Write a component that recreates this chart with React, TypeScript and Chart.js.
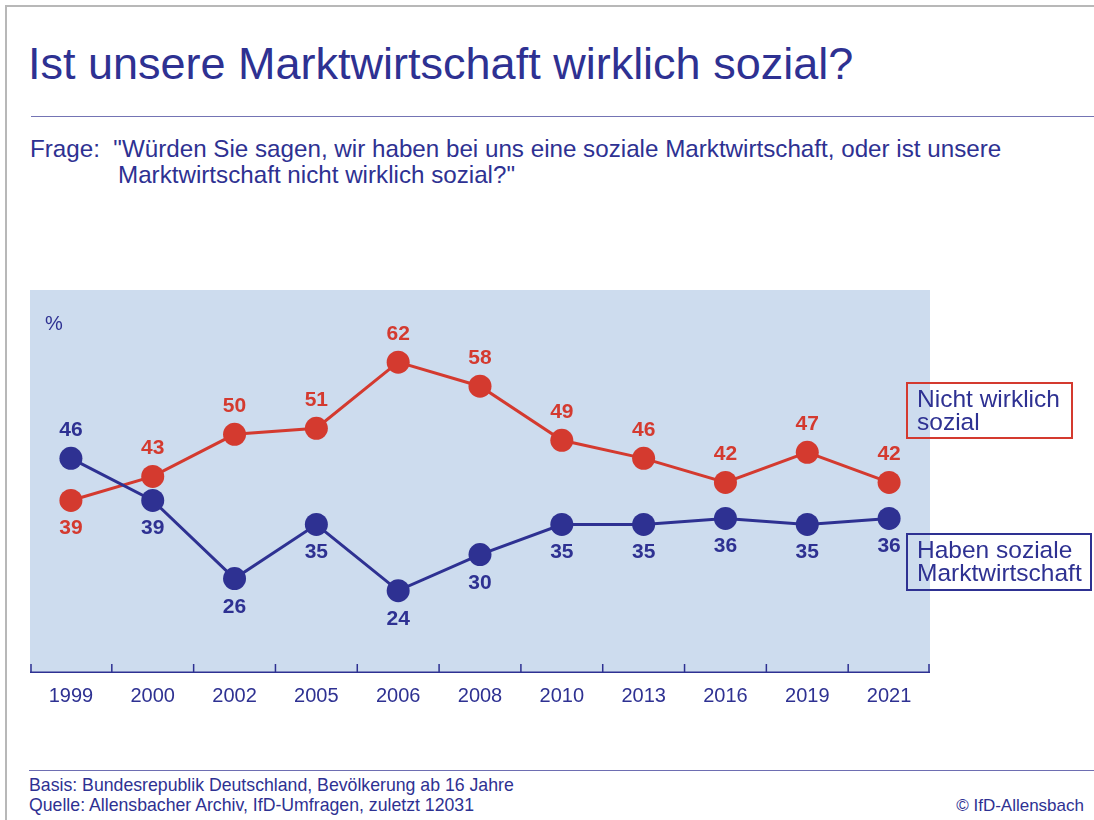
import React, { useEffect, useRef } from "react";
import { Chart, registerables } from "chart.js";

Chart.register(...registerables);

const years = ["1999", "2000", "2002", "2005", "2006", "2008", "2010", "2013", "2016", "2019", "2021"];
const nichtWirklichSozial = [39, 43, 50, 51, 62, 58, 49, 46, 42, 47, 42];
const habenSozialeMarktwirtschaft = [46, 39, 26, 35, 24, 30, 35, 35, 36, 35, 36];
const nichtLabelSide = ["below", "above", "above", "above", "above", "above", "above", "above", "above", "above", "above"];
const habenLabelSide = ["above", "below", "below", "below", "below", "below", "below", "below", "below", "below", "below"];

const BLUE = "#2e3192";
const RED = "#d43a2f";
const BG = "#cddcee";
const FONT = "'Liberation Sans', Arial, sans-serif";

const backgroundPlugin = {
  id: "bgPlugin",
  beforeDraw(chart: any) {
    const { ctx, chartArea } = chart;
    ctx.save();
    ctx.fillStyle = BG;
    ctx.fillRect(chartArea.left, chartArea.top, chartArea.right - chartArea.left, chartArea.bottom - chartArea.top);
    ctx.restore();
  },
  beforeDatasetsDraw(chart: any) {
    const { ctx, chartArea } = chart;
    const xs = chart.scales.x;
    const n = chart.data.labels.length;
    const w = xs.getPixelForValue(1) - xs.getPixelForValue(0);
    ctx.save();
    ctx.strokeStyle = BLUE;
    ctx.lineWidth = 1.5;
    ctx.beginPath();
    ctx.moveTo(chartArea.left, chartArea.bottom - 0.75);
    ctx.lineTo(chartArea.right, chartArea.bottom - 0.75);
    for (let i = 0; i <= n; i++) {
      let x = i < n ? xs.getPixelForValue(i) - w / 2 : xs.getPixelForValue(n - 1) + w / 2;
      x = Math.min(Math.max(x, chartArea.left + 1), chartArea.right - 1);
      ctx.moveTo(x, chartArea.bottom - 9);
      ctx.lineTo(x, chartArea.bottom);
    }
    ctx.stroke();
    ctx.restore();
  },
};

const labelPlugin = {
  id: "labelPlugin",
  afterDatasetsDraw(chart: any) {
    const { ctx } = chart;
    ctx.save();
    ctx.font = `bold 21px ${FONT}`;
    ctx.textAlign = "center";
    ctx.textBaseline = "alphabetic";
    chart.data.datasets.forEach((ds: any, di: number) => {
      const meta = chart.getDatasetMeta(di);
      const sides = ds.labelSides as string[];
      meta.data.forEach((pt: any, i: number) => {
        const y = sides[i] === "above" ? pt.y - 22 : pt.y + 34;
        ctx.fillStyle = ds.borderColor;
        ctx.fillText(String(ds.data[i]), pt.x, y);
      });
    });
    ctx.restore();
  },
};

function ChartCanvas() {
  const ref = useRef<HTMLCanvasElement | null>(null);
  useEffect(() => {
    if (!ref.current) return;
    const chart = new Chart(ref.current, {
      type: "line",
      data: {
        labels: years,
        datasets: [
          {
            label: "Haben soziale Marktwirtschaft",
            data: habenSozialeMarktwirtschaft,
            borderColor: BLUE,
            backgroundColor: BLUE,
            borderWidth: 3,
            pointRadius: 11.5,
            pointBorderWidth: 0,
            pointBackgroundColor: BLUE,
            tension: 0,
            labelSides: habenLabelSide,
          } as any,
          {
            label: "Nicht wirklich sozial",
            data: nichtWirklichSozial,
            borderColor: RED,
            backgroundColor: RED,
            borderWidth: 3,
            pointRadius: 11.5,
            pointBorderWidth: 0,
            pointBackgroundColor: RED,
            tension: 0,
            labelSides: nichtLabelSide,
          } as any,
        ],
      },
      options: {
        animation: false,
        responsive: false,
        devicePixelRatio: 1,
        layout: { padding: 0, autoPadding: false },
        plugins: { legend: { display: false }, tooltip: { enabled: false } },
        scales: {
          x: {
            type: "category",
            offset: true,
            grid: { display: false, drawTicks: false },
            border: { display: false },
            ticks: { color: BLUE, font: { family: FONT, size: 20 }, padding: 11, maxRotation: 0, autoSkip: false },
            afterFit: (s: any) => {
              s.height = 37;
            },
          },
          y: { display: false, min: 10.3, max: 74 },
        },
      },
      plugins: [backgroundPlugin, labelPlugin],
    } as any);
    return () => chart.destroy();
  }, []);
  return <canvas ref={ref} width={900} height={420} style={{ display: "block", width: 900, height: 420 }} />;
}

const abs = (o: React.CSSProperties): React.CSSProperties => ({ position: "absolute", whiteSpace: "nowrap", ...o });

export default function App() {
  return (
    <div style={{ position: "absolute", left: 0, top: 0, width: 1094, height: 820, overflow: "hidden", background: "#fff", fontFamily: FONT, color: BLUE }}>
      <div style={abs({ left: 5, top: 5, width: 1100, height: 900, borderTop: "2px solid #b8b8b8", borderLeft: "2px solid #b8b8b8" })} />
      <div style={abs({ left: 28, top: 41, fontSize: 45, lineHeight: "45px" })}>Ist unsere Marktwirtschaft wirklich sozial?</div>
      <div style={abs({ left: 31, top: 116, width: 1063, height: 0, borderTop: "1.5px solid #7474b4" })} />
      <div style={abs({ left: 30, top: 137, fontSize: 24.2, lineHeight: "24px" })}>
        Frage:&nbsp; "Würden Sie sagen, wir haben bei uns eine soziale Marktwirtschaft, oder ist unsere
      </div>
      <div style={abs({ left: 118, top: 163, fontSize: 24.2, lineHeight: "24px" })}>Marktwirtschaft nicht wirklich sozial?"</div>

      <div style={abs({ left: 30, top: 290, width: 900, height: 420 })}>
        <ChartCanvas />
      </div>
      <div style={abs({ left: 45, top: 313, fontSize: 20, lineHeight: "20px" })}>%</div>

      <div style={abs({ left: 906, top: 382, width: 167, height: 57, boxSizing: "border-box", border: `2px solid ${RED}` })} />
      <div style={abs({ left: 917, top: 387, fontSize: 24.5, lineHeight: "23px" })}>
        Nicht wirklich
        <br />
        sozial
      </div>
      <div style={abs({ left: 906, top: 533, width: 186, height: 58, boxSizing: "border-box", border: `2px solid ${BLUE}` })} />
      <div style={abs({ left: 917, top: 538, fontSize: 24.5, lineHeight: "23px" })}>
        Haben soziale
        <br />
        Marktwirtschaft
      </div>

      <div style={abs({ left: 29, top: 770, width: 1065, height: 0, borderTop: "1.5px solid #6e6eb2" })} />
      <div style={abs({ left: 29, top: 777, fontSize: 17.7, lineHeight: "17.5px" })}>Basis: Bundesrepublik Deutschland, Bevölkerung ab 16 Jahre</div>
      <div style={abs({ left: 29, top: 797, fontSize: 17.7, lineHeight: "17.5px" })}>Quelle: Allensbacher Archiv, IfD-Umfragen, zuletzt 12031</div>
      <div style={abs({ right: 10, top: 797, fontSize: 17, lineHeight: "17px" })}>© IfD-Allensbach</div>
    </div>
  );
}
